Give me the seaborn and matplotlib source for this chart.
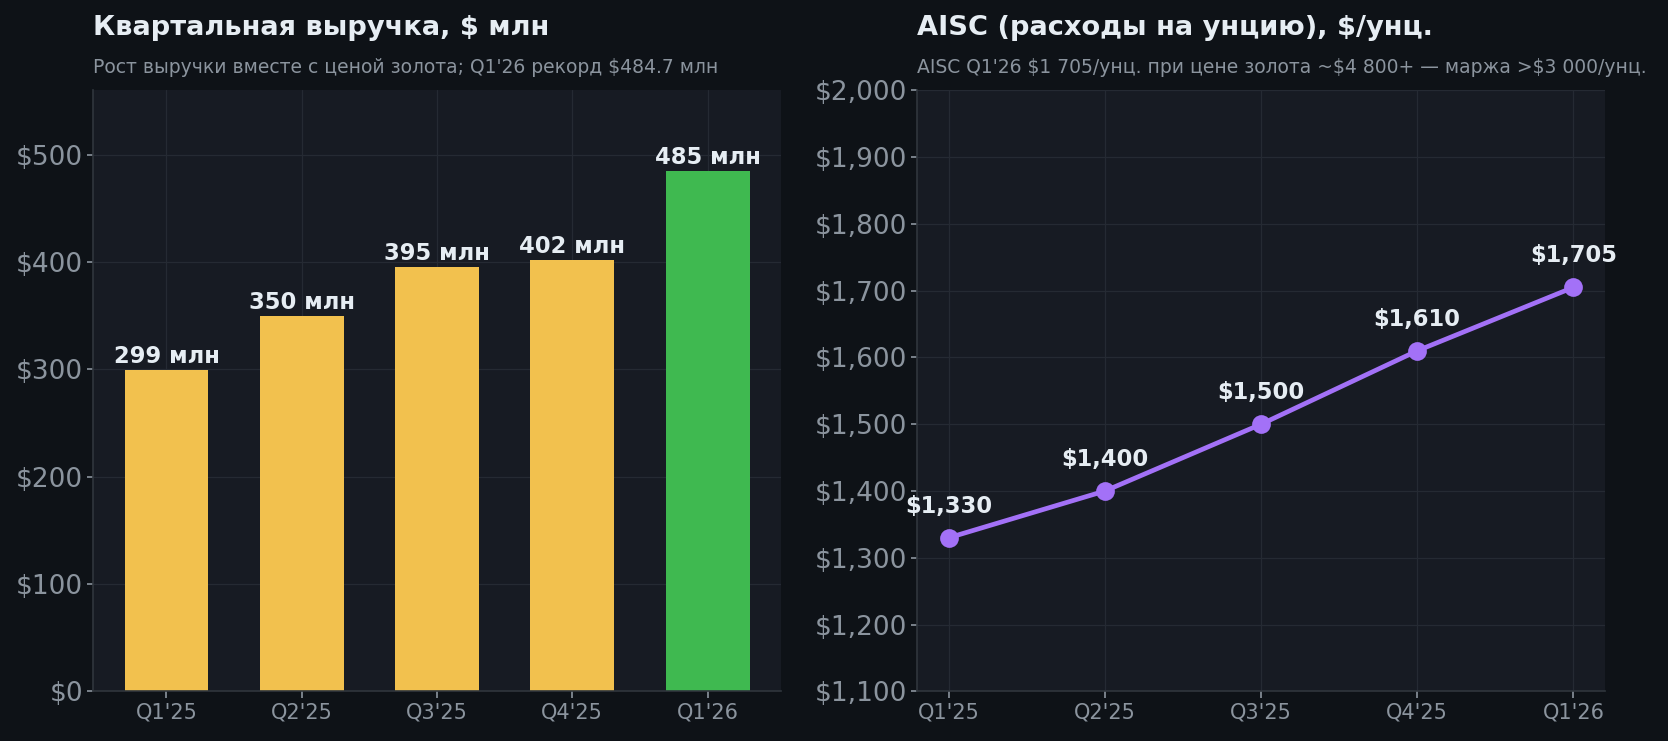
import matplotlib
matplotlib.use("Agg")
import matplotlib.pyplot as plt
import seaborn as sns
from matplotlib.ticker import FuncFormatter

# --- data ---
quarters = ["Q1'25", "Q2'25", "Q3'25", "Q4'25", "Q1'26"]
revenue = [299, 350, 395, 402, 484.7]          # $ млн
aisc = [1330, 1400, 1500, 1610, 1705]          # $/унц.

BG = "#0e1217"
PANEL = "#171b23"
GRID = "#252a33"
SPINE = "#30363d"
TEXT = "#e6edf3"
MUTED = "#8b949e"
YELLOW = "#f2c14e"
GREEN = "#3fb950"
PURPLE = "#a371f7"

sns.set_theme(style="dark")
plt.rcParams["font.family"] = ["DejaVu Sans"]

fig = plt.figure(figsize=(16.68, 7.41), dpi=100, facecolor=BG)
ax1 = fig.add_axes([0.056, 0.067, 0.412, 0.811])
ax2 = fig.add_axes([0.550, 0.067, 0.412, 0.811])

for ax in (ax1, ax2):
    ax.set_facecolor(PANEL)
    ax.grid(True, color=GRID, linewidth=0.9)
    ax.set_axisbelow(True)
    for side in ("top", "right"):
        ax.spines[side].set_visible(False)
    for side in ("left", "bottom"):
        ax.spines[side].set_color(SPINE)
        ax.spines[side].set_linewidth(1.2)
    ax.tick_params(axis="y", colors=MUTED, labelsize=19, length=4, width=1.2, left=True)
    ax.tick_params(axis="x", colors=MUTED, labelsize=15, length=5, width=1.2, bottom=True, pad=3)

# --- left: quarterly revenue ---
bar_colors = [YELLOW] * (len(quarters) - 1) + [GREEN]
sns.barplot(x=quarters, y=revenue, hue=quarters, palette=bar_colors, legend=False,
            width=0.62, saturation=1, linewidth=0, edgecolor="none", ax=ax1)
ax1.set_xlim(-0.54, len(quarters) - 0.46)
ax1.set_ylim(0, max(revenue) * 1.155)
ax1.set_yticks(range(0, 501, 100))
ax1.yaxis.set_major_formatter(FuncFormatter(lambda v, _: f"${v:,.0f}"))
ax1.grid(True, color=GRID, linewidth=0.9)
ax1.set_xlabel("")
ax1.set_ylabel("")
for i, v in enumerate(revenue):
    ax1.annotate(f"{v:.0f} млн", (i, v), xytext=(0, 1.5), textcoords="offset points",
                 ha="center", va="bottom", fontsize=16.3, fontweight="bold", color=TEXT)

# --- right: AISC ---
xs = list(range(len(quarters)))
sns.lineplot(x=xs, y=aisc, color=PURPLE, linewidth=3.4, marker="o", markersize=13.5,
             markeredgewidth=0, ax=ax2)
ax2.set_xticks(xs)
ax2.set_xticklabels(quarters)
ax2.set_xlim(-0.2, len(quarters) - 0.8)
ax2.set_ylim(1100, 2000)
ax2.set_yticks(range(1100, 2001, 100))
ax2.yaxis.set_major_formatter(FuncFormatter(lambda v, _: f"${v:,.0f}"))
ax2.set_xlabel("")
ax2.set_ylabel("")
for x, v in zip(xs, aisc):
    ax2.annotate(f"${v:,.0f}", (x, v), xytext=(0, 14.5), textcoords="offset points",
                 ha="center", va="bottom", fontsize=16.3, fontweight="bold", color=TEXT)

# --- titles ---
fig.text(0.056, 0.962, "Квартальная выручка, $ млн", ha="left", va="center",
         fontsize=19.6, fontweight="bold", color=TEXT)
fig.text(0.056, 0.909, "Рост выручки вместе с ценой золота; Q1'26 рекорд $484.7 млн",
         ha="left", va="center", fontsize=13.5, color=MUTED)
fig.text(0.550, 0.962, "AISC (расходы на унцию), $/унц.", ha="left", va="center",
         fontsize=19.6, fontweight="bold", color=TEXT)
fig.text(0.550, 0.909, "AISC Q1'26 $1 705/унц. при цене золота ~$4 800+ — маржа >$3 000/унц.",
         ha="left", va="center", fontsize=13.5, color=MUTED)

fig.savefig("out.png", dpi=100, facecolor=BG)
